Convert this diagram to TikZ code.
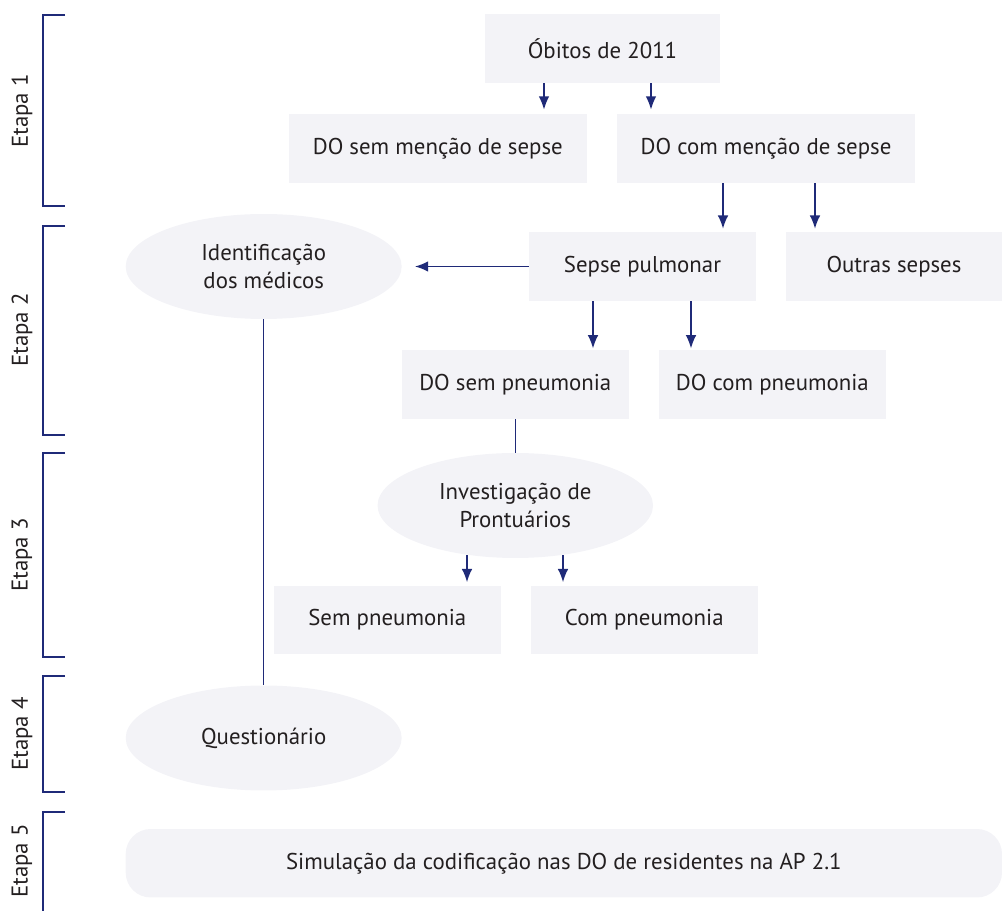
\documentclass[tikz,border=0pt]{standalone}
\usepackage{fontspec}
\setmainfont{PT Sans}
\usetikzlibrary{arrows.meta,shapes.geometric}
\definecolor{boxfill}{HTML}{F3F3F7}
\definecolor{navy}{HTML}{1F2A78}
\definecolor{txt}{HTML}{231F20}
\begin{document}
\begin{tikzpicture}[
    x=0.02cm, y=-0.02cm,
    box/.style={rectangle, fill=boxfill, minimum height=1.38cm, align=center, text=txt, font=\fontsize{13}{15.5}\selectfont},
    oval/.style={ellipse, fill=boxfill, minimum width=5.52cm, minimum height=2.1cm, align=center, text=txt, font=\fontsize{13}{15.5}\selectfont, inner sep=0pt},
    arrow/.style={-{Latex[length=7.5pt, width=6pt]}, navy, line width=0.8pt},
    link/.style={navy, line width=0.8pt},
    bracket/.style={navy, line width=0.8pt},
    stage/.style={rotate=90, text=txt, font=\fontsize{13}{15.5}\selectfont}
]
    \useasboundingbox (0,0) rectangle (1002,911);

    % Etapas
    \draw[bracket] (65,15) -| (43,206) -- (65,206);
    \draw[bracket] (65,226) -| (43,435) -- (65,435);
    \draw[bracket] (65,453) -| (43,657) -- (65,657);
    \draw[bracket] (65,676) -| (43,792) -- (65,792);
    \draw[bracket] (65,812) -| (43,911);
    \node[stage] (etapa1) at (22,111) {Etapa 1};
    \node[stage] (etapa2) at (22,330) {Etapa 2};
    \node[stage] (etapa3) at (22,555) {Etapa 3};
    \node[stage] (etapa4) at (22,734) {Etapa 4};
    \node[stage] (etapa5) at (22,861) {Etapa 5};

    % Caixas
    \node[box, minimum width=4.7cm] (obitos) at (602.5,48.5) {Óbitos de 2011};
    \node[box, minimum width=5.95cm] (semmencao) at (437.8,148.5) {DO sem menção de sepse};
    \node[box, minimum width=5.96cm] (commencao) at (766,148.5) {DO com menção de sepse};
    \node[box, minimum width=4.54cm] (pulmonar) at (642.5,266.5) {Sepse pulmonar};
    \node[box, minimum width=4.32cm] (outras) at (894,266.5) {Outras sepses};
    \node[box, minimum width=4.53cm] (dosem) at (515.3,384.3) {DO sem pneumonia};
    \node[box, minimum width=4.53cm] (docom) at (772.4,384.3) {DO com pneumonia};
    \node[box, minimum width=4.54cm] (sempn) at (387.3,620) {Sem pneumonia};
    \node[box, minimum width=4.53cm] (compn) at (644.3,620) {Com pneumonia};

    \node[oval] (ident) at (263.7,266.5) {Identificação\\dos médicos};
    \node[oval, minimum width=5.51cm] (invest) at (515.3,505.5) {Investigação de\\Prontuários};
    \node[oval] (quest) at (263.7,738) {Questionário};

    \node[box, rounded corners=0.5cm, minimum width=17.53cm, minimum height=1.37cm] (simul) at (563.85,863.25) {Simulação da codificação nas DO de residentes na AP 2.1};

    % Setas
    \draw[arrow, shorten >=2.3pt] (obitos.south -| 544,0) -- (semmencao.north -| 544,0);
    \draw[arrow, shorten >=2.3pt] (obitos.south -| 651,0) -- (commencao.north -| 651,0);
    \draw[arrow, shorten >=1.7pt] (commencao.south -| 723,0) -- (pulmonar.north -| 723,0);
    \draw[arrow, shorten >=1.7pt] (commencao.south -| 815,0) -- (outras.north -| 815,0);
    \draw[arrow, shorten >=7.4pt] (pulmonar.west) -- (ident.east);
    \draw[arrow, shorten >=0.6pt] (pulmonar.south -| 593,0) -- (dosem.north -| 593,0);
    \draw[arrow, shorten >=0.6pt] (pulmonar.south -| 691,0) -- (docom.north -| 691,0);
    \draw[link] (dosem.south) -- (invest.north);
    \draw[arrow, shorten >=1.7pt] (invest.south -| 467,0) ++(0,-3) -- (sempn.north -| 467,0);
    \draw[arrow, shorten >=1.7pt] (invest.south -| 563,0) ++(0,-3) -- (compn.north -| 563,0);
    \draw[link] (ident.south) -- (quest.north);

\end{tikzpicture}
\end{document}
